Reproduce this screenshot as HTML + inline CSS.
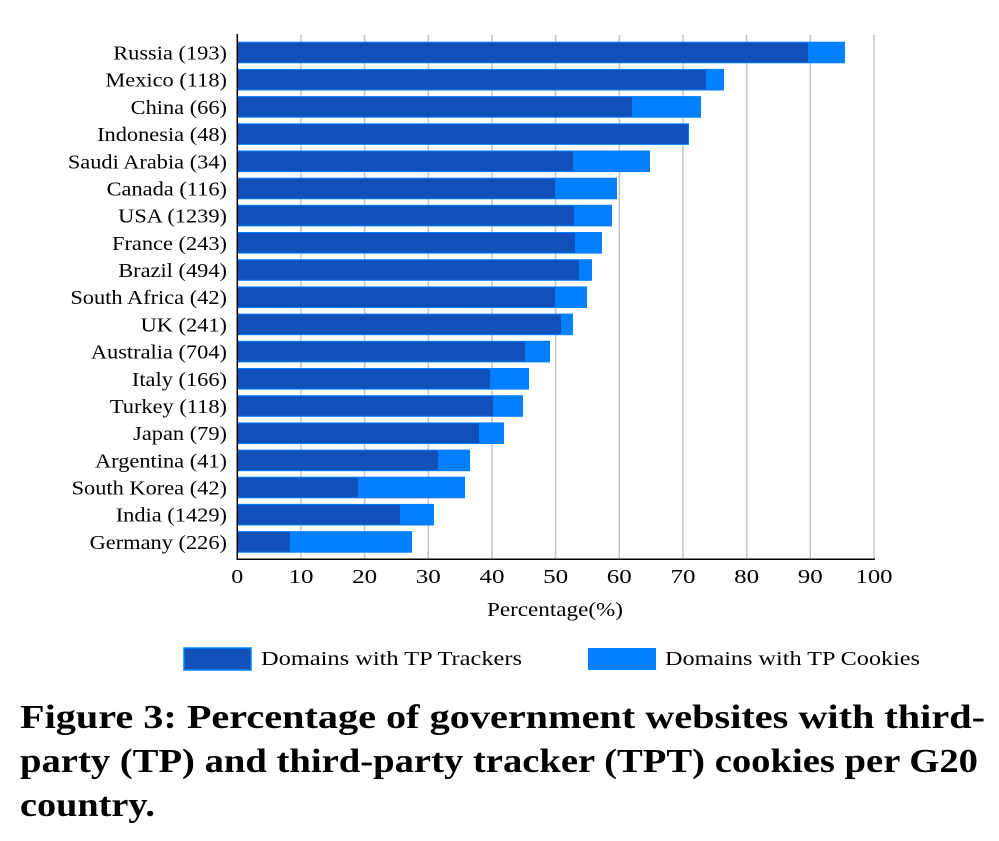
<!DOCTYPE html>
<html><head><meta charset="utf-8"><style>
html,body{margin:0;padding:0;background:#fff;}
svg{display:block;}
text{font-family:"Liberation Serif",serif;fill:#000;}
</style></head><body>
<svg width="999" height="841" viewBox="0 0 999 841" xmlns="http://www.w3.org/2000/svg">
<g stroke="#c4c4c4" stroke-width="1.5">
<line x1="301" y1="35" x2="301" y2="559"/><line x1="364.6" y1="35" x2="364.6" y2="559"/>
<line x1="428.3" y1="35" x2="428.3" y2="559"/><line x1="492" y1="35" x2="492" y2="559"/>
<line x1="555.6" y1="35" x2="555.6" y2="559"/><line x1="619.3" y1="35" x2="619.3" y2="559"/>
<line x1="683" y1="35" x2="683" y2="559"/><line x1="746.6" y1="35" x2="746.6" y2="559"/>
<line x1="810.3" y1="35" x2="810.3" y2="559"/><line x1="874" y1="35" x2="874" y2="559"/>
</g>
<g id="bars">
<rect x="237" y="41.7" width="608" height="21.6" fill="#0080ff"/><rect x="237" y="42.7" width="571" height="19.6" fill="#1150b8"/>
<rect x="237" y="68.9" width="487" height="21.6" fill="#0080ff"/><rect x="237" y="69.9" width="469" height="19.6" fill="#1150b8"/>
<rect x="237" y="96.1" width="464" height="21.6" fill="#0080ff"/><rect x="237" y="97.1" width="395" height="19.6" fill="#1150b8"/>
<rect x="237" y="123.3" width="452" height="21.6" fill="#0080ff"/><rect x="237" y="124.3" width="451" height="19.6" fill="#1150b8"/>
<rect x="237" y="150.5" width="413" height="21.6" fill="#0080ff"/><rect x="237" y="151.5" width="336" height="19.6" fill="#1150b8"/>
<rect x="237" y="177.7" width="380" height="21.6" fill="#0080ff"/><rect x="237" y="178.7" width="318" height="19.6" fill="#1150b8"/>
<rect x="237" y="204.8" width="375" height="21.6" fill="#0080ff"/><rect x="237" y="205.8" width="337" height="19.6" fill="#1150b8"/>
<rect x="237" y="232.0" width="365" height="21.6" fill="#0080ff"/><rect x="237" y="233.0" width="338" height="19.6" fill="#1150b8"/>
<rect x="237" y="259.2" width="355" height="21.6" fill="#0080ff"/><rect x="237" y="260.2" width="342" height="19.6" fill="#1150b8"/>
<rect x="237" y="286.4" width="350" height="21.6" fill="#0080ff"/><rect x="237" y="287.4" width="318" height="19.6" fill="#1150b8"/>
<rect x="237" y="313.6" width="336" height="21.6" fill="#0080ff"/><rect x="237" y="314.6" width="324" height="19.6" fill="#1150b8"/>
<rect x="237" y="340.8" width="313" height="21.6" fill="#0080ff"/><rect x="237" y="341.8" width="288" height="19.6" fill="#1150b8"/>
<rect x="237" y="368.0" width="292" height="21.6" fill="#0080ff"/><rect x="237" y="369.0" width="253" height="19.6" fill="#1150b8"/>
<rect x="237" y="395.2" width="286" height="21.6" fill="#0080ff"/><rect x="237" y="396.2" width="256" height="19.6" fill="#1150b8"/>
<rect x="237" y="422.4" width="267" height="21.6" fill="#0080ff"/><rect x="237" y="423.4" width="242" height="19.6" fill="#1150b8"/>
<rect x="237" y="449.6" width="233" height="21.6" fill="#0080ff"/><rect x="237" y="450.6" width="201" height="19.6" fill="#1150b8"/>
<rect x="237" y="476.7" width="228" height="21.6" fill="#0080ff"/><rect x="237" y="477.7" width="121" height="19.6" fill="#1150b8"/>
<rect x="237" y="503.9" width="197" height="21.6" fill="#0080ff"/><rect x="237" y="504.9" width="163" height="19.6" fill="#1150b8"/>
<rect x="237" y="531.1" width="175" height="21.6" fill="#0080ff"/><rect x="237" y="532.1" width="53" height="19.6" fill="#1150b8"/>
</g>
<line x1="237.3" y1="34" x2="237.3" y2="560" stroke="#000" stroke-width="1.5"/>
<line x1="236.5" y1="559.3" x2="875" y2="559.3" stroke="#000" stroke-width="1.5"/>
<g font-size="20" text-anchor="end" transform="translate(227,0) scale(1.12,1) translate(-227,0)">
<text x="227" y="59.5">Russia (193)</text>
<text x="227" y="86.7">Mexico (118)</text>
<text x="227" y="113.9">China (66)</text>
<text x="227" y="141.1">Indonesia (48)</text>
<text x="227" y="168.3">Saudi Arabia (34)</text>
<text x="227" y="195.5">Canada (116)</text>
<text x="227" y="222.6">USA (1239)</text>
<text x="227" y="249.8">France (243)</text>
<text x="227" y="277">Brazil (494)</text>
<text x="227" y="304.2">South Africa (42)</text>
<text x="227" y="331.4">UK (241)</text>
<text x="227" y="358.6">Australia (704)</text>
<text x="227" y="385.8">Italy (166)</text>
<text x="227" y="413">Turkey (118)</text>
<text x="227" y="440.2">Japan (79)</text>
<text x="227" y="467.4">Argentina (41)</text>
<text x="227" y="494.5">South Korea (42)</text>
<text x="227" y="521.7">India (1429)</text>
<text x="227" y="548.9">Germany (226)</text>
</g>
<g font-size="20" text-anchor="middle">
<text x="237.3" y="583" textLength="12" lengthAdjust="spacingAndGlyphs">0</text>
<text x="301" y="583" textLength="25" lengthAdjust="spacingAndGlyphs">10</text>
<text x="364.6" y="583" textLength="25" lengthAdjust="spacingAndGlyphs">20</text>
<text x="428.3" y="583" textLength="25" lengthAdjust="spacingAndGlyphs">30</text>
<text x="492" y="583" textLength="25" lengthAdjust="spacingAndGlyphs">40</text>
<text x="555.6" y="583" textLength="25" lengthAdjust="spacingAndGlyphs">50</text>
<text x="619.3" y="583" textLength="25" lengthAdjust="spacingAndGlyphs">60</text>
<text x="683" y="583" textLength="25" lengthAdjust="spacingAndGlyphs">70</text>
<text x="746.6" y="583" textLength="25" lengthAdjust="spacingAndGlyphs">80</text>
<text x="810.3" y="583" textLength="25" lengthAdjust="spacingAndGlyphs">90</text>
<text x="874" y="583" textLength="37" lengthAdjust="spacingAndGlyphs">100</text>
<text x="555" y="616" textLength="136" lengthAdjust="spacingAndGlyphs">Percentage(%)</text>
</g>
<rect x="184" y="648" width="67" height="22" fill="#1150b8" stroke="#0080ff" stroke-width="1.5"/>
<text x="261" y="665" font-size="20" textLength="261" lengthAdjust="spacingAndGlyphs">Domains with TP Trackers</text>
<rect x="588" y="648" width="68" height="22" fill="#0080ff"/>
<text x="665" y="665" font-size="20" textLength="255" lengthAdjust="spacingAndGlyphs">Domains with TP Cookies</text>
<g font-size="34" font-weight="bold">
<text x="20" y="728" textLength="965" lengthAdjust="spacingAndGlyphs">Figure 3: Percentage of government websites with third-</text>
<text x="20" y="772" textLength="958" lengthAdjust="spacingAndGlyphs">party (TP) and third-party tracker (TPT) cookies per G20</text>
<text x="20" y="816" textLength="135" lengthAdjust="spacingAndGlyphs">country.</text>
</g>
</svg>
</body></html>
